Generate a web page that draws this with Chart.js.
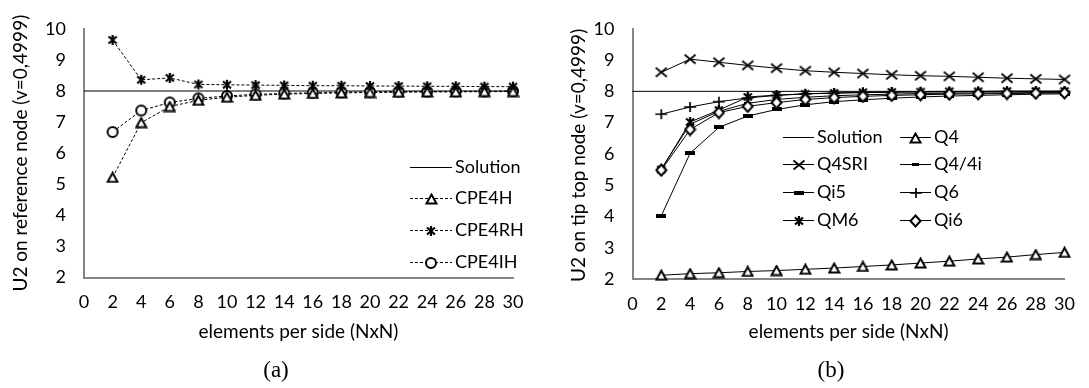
<!DOCTYPE html>
<html>
<head>
<meta charset="utf-8">
<script src="https://cdn.jsdelivr.net/npm/chart.js@4.4.1/dist/chart.umd.min.js"></script>
<style>
  body { margin: 0; background: #fff; width: 1089px; height: 388px; position: relative; overflow: hidden; }
  .panel { position: absolute; top: 0; }
  .panel canvas { display: block; }
  .pie { position: absolute; top: 356px; line-height: 28px; font-family: "Liberation Serif", serif; font-size: 23px; color: #000; transform: translateX(-50%); }
</style>
</head>
<body>
<div class="panel" style="left:0"><canvas id="graficoA" width="545" height="388"></canvas></div>
<div class="panel" style="left:545px"><canvas id="graficoB" width="544" height="388"></canvas></div>
<div class="pie" style="left:276px">(a)</div>
<div class="pie" style="left:831px">(b)</div>
<script>
// datos
const elementos = [2, 4, 6, 8, 10, 12, 14, 16, 18, 20, 22, 24, 26, 28, 30];
const solucionX = [0, 30];
const solucionY = [8, 8];

// (a)
const cpe4h  = [5.22, 6.98, 7.50, 7.70, 7.80, 7.86, 7.90, 7.92, 7.94, 7.95, 7.96, 7.97, 7.97, 7.98, 7.98];
const cpe4rh = [9.64, 8.36, 8.42, 8.21, 8.20, 8.19, 8.18, 8.17, 8.17, 8.16, 8.16, 8.15, 8.15, 8.14, 8.14];
const cpe4ih = [6.68, 7.37, 7.63, 7.76, 7.84, 7.89, 7.92, 7.94, 7.96, 7.97, 7.98, 7.98, 7.99, 7.99, 8.00];

// (b)
const q4    = [2.12, 2.17, 2.20, 2.24, 2.27, 2.31, 2.35, 2.40, 2.45, 2.51, 2.57, 2.64, 2.70, 2.78, 2.85];
const q4sri = [8.61, 9.03, 8.93, 8.83, 8.74, 8.66, 8.61, 8.57, 8.53, 8.50, 8.48, 8.45, 8.42, 8.40, 8.38];
const q44i  = [5.52, 6.95, 7.36, 7.62, 7.74, 7.81, 7.86, 7.89, 7.91, 7.93, 7.94, 7.95, 7.95, 7.96, 7.96];
const qi5   = [4.02, 6.02, 6.85, 7.21, 7.42, 7.57, 7.67, 7.73, 7.78, 7.82, 7.85, 7.87, 7.89, 7.91, 7.92];
const q6    = [7.27, 7.50, 7.67, 7.79, 7.87, 7.92, 7.94, 7.96, 7.97, 7.98, 7.98, 7.99, 7.99, 7.99, 8.00];
const qm6   = [5.50, 7.02, 7.40, 7.82, 7.88, 7.92, 7.95, 7.97, 7.98, 7.99, 8.00, 8.00, 8.01, 8.01, 8.01];
const qi6   = [5.48, 6.78, 7.32, 7.52, 7.64, 7.74, 7.80, 7.84, 7.87, 7.89, 7.91, 7.92, 7.93, 7.94, 7.95];

const colorEje = '#858585';
const familia = 'Lato, "Open Sans", sans-serif';
const fuenteTicks = { family: familia, size: 18 };
const fuenteTitulo = { family: familia, size: 19 };

function puntos(xs, ys) {
  return xs.map((x, i) => ({ x: x, y: ys[i] }));
}

// marcadores dibujados a mano (estilo Excel)
function crearMarcador(tipo) {
  const tam = { tri: [13, 12], ast: [12, 12], circ: [14, 14], equis: [14, 12], guionChico: [7, 3], guionGrande: [10, 4], cruz: [14, 12], rombo: [13, 14] }[tipo];
  const c = document.createElement('canvas');
  c.width = tam[0]; c.height = tam[1];
  const g = c.getContext('2d');
  const w = c.width, h = c.height;
  g.strokeStyle = '#000';
  g.fillStyle = '#fff';
  g.lineWidth = 2;
  g.beginPath();
  if (tipo === 'tri') {
    g.moveTo(w / 2, 1.5); g.lineTo(w - 1.5, h - 1.5); g.lineTo(1.5, h - 1.5); g.closePath();
    g.fill(); g.stroke();
  } else if (tipo === 'ast') {
    g.lineWidth = 2.2;
    g.moveTo(2, 2.5); g.lineTo(w - 2, h - 2.5);
    g.moveTo(w - 2, 2.5); g.lineTo(2, h - 2.5);
    g.moveTo(w / 2, 1); g.lineTo(w / 2, h - 1);
    g.stroke();
  } else if (tipo === 'circ') {
    g.arc(w / 2, h / 2, 5, 0, Math.PI * 2);
    g.fill(); g.stroke();
  } else if (tipo === 'equis') {
    g.lineWidth = 1.7;
    g.moveTo(1.5, 1.5); g.lineTo(w - 1.5, h - 1.5);
    g.moveTo(w - 1.5, 1.5); g.lineTo(1.5, h - 1.5);
    g.stroke();
  } else if (tipo === 'cruz') {
    g.lineWidth = 1.7;
    g.moveTo(1, h / 2); g.lineTo(w - 1, h / 2);
    g.moveTo(w / 2, 1); g.lineTo(w / 2, h - 1);
    g.stroke();
  } else if (tipo === 'rombo') {
    g.moveTo(w / 2, 1.5); g.lineTo(w - 1.5, h / 2); g.lineTo(w / 2, h - 1.5); g.lineTo(1.5, h / 2); g.closePath();
    g.fill(); g.stroke();
  } else {
    g.fillStyle = '#000';
    g.fillRect(0, 0, w, h);
  }
  return c;
}

// leyenda manual: linea + marcador + texto, en filas y columnas
const leyendaManual = {
  id: 'leyendaManual',
  afterDraw(chart, args, opts) {
    const ctx = chart.ctx;
    chart.data.datasets.forEach((ds, i) => {
      const col = i % opts.cols;
      const fila = Math.floor(i / opts.cols);
      const x = opts.x + col * opts.anchoCol;
      const y = Math.round(opts.y + fila * opts.altoFila) + 0.5;
      ctx.save();
      ctx.strokeStyle = ds.borderColor;
      ctx.lineWidth = ds.borderWidth;
      ctx.setLineDash(ds.borderDash || []);
      ctx.beginPath();
      ctx.moveTo(x, y);
      ctx.lineTo(x + opts.largo, y);
      ctx.stroke();
      ctx.setLineDash([]);
      if (ds.pointRadius > 0 && ds.pointStyle instanceof HTMLCanvasElement) {
        const m = ds.pointStyle;
        ctx.drawImage(m, Math.round(x + opts.largo / 2 - m.width / 2), Math.round(y - m.height / 2));
      }
      ctx.fillStyle = '#000';
      ctx.font = fuenteTicks.size + 'px ' + familia;
      ctx.textBaseline = 'middle';
      ctx.fillText(ds.label, x + opts.largo + 3, y);
      ctx.restore();
    });
  }
};

function serie(etiqueta, ys, marcador, discontinua) {
  return {
    label: etiqueta,
    data: puntos(elementos, ys),
    borderColor: '#000',
    borderWidth: 1,
    borderDash: discontinua ? [3, 2] : [],
    pointStyle: crearMarcador(marcador),
    pointRadius: 5,
    pointHoverRadius: 5,
    clip: false,
    order: 1
  };
}

function solucion(grosor) {
  return {
    label: 'Solution',
    data: puntos(solucionX, solucionY),
    borderColor: '#000',
    borderWidth: grosor,
    pointRadius: 0,
    clip: false,
    order: 10
  };
}

function opciones(cfg) {
  return {
    responsive: false,
    animation: false,
    devicePixelRatio: 1,
    layout: { padding: cfg.padding },
    plugins: {
      legend: { display: false },
      tooltip: { enabled: false },
      leyendaManual: cfg.leyenda
    },
    scales: {
      x: {
        type: 'linear', min: 0, max: 30,
        afterFit: s => { s.height = cfg.altoX; },
        grid: { display: false, drawTicks: false },
        border: { display: true, color: colorEje, width: 2 },
        ticks: { stepSize: 2, autoSkip: false, maxRotation: 0, padding: 14, color: '#000', font: fuenteTicks },
        title: { display: true, text: 'elements per side (NxN)', color: '#000', font: fuenteTitulo, padding: { top: 0, bottom: 2 } }
      },
      y: {
        type: 'linear', min: 2, max: 10,
        afterFit: s => { s.width = cfg.anchoY; },
        grid: { display: false, drawTicks: false },
        border: { display: true, color: colorEje, width: 2 },
        ticks: { stepSize: 1, padding: 18, color: '#000', font: fuenteTicks },
        title: { display: true, text: cfg.tituloY, align: cfg.alineaY, color: '#000', font: fuenteTitulo, padding: { top: cfg.padTituloY, bottom: 0 } }
      }
    }
  };
}

new Chart(document.getElementById('graficoA').getContext('2d'), {
  type: 'line',
  data: {
    datasets: [
      solucion(1.2),
      serie('CPE4H', cpe4h, 'tri', true),
      serie('CPE4RH', cpe4rh, 'ast', true),
      serie('CPE4IH', cpe4ih, 'circ', true)
    ]
  },
  options: opciones({
    padding: { top: 19, left: 0, right: 32, bottom: 43 },
    altoX: 67.5,
    anchoY: 84,
    tituloY: 'U2 on reference node (v=0,4999)',
    alineaY: 'center',
    padTituloY: 9,
    leyenda: { x: 410, y: 166.7, cols: 1, anchoCol: 0, altoFila: 31.7, largo: 42 }
  }),
  plugins: [leyendaManual]
});

const dsB = [
  solucion(1),
  serie('Q4', q4, 'tri', false),
  serie('Q4SRI', q4sri, 'equis', false),
  serie('Q4/4i', q44i, 'guionChico', false),
  serie('Qi5', qi5, 'guionGrande', false),
  serie('Q6', q6, 'cruz', false),
  serie('QM6', qm6, 'ast', false),
  serie('Qi6', qi6, 'rombo', false)
];
dsB[7].order = 0;

new Chart(document.getElementById('graficoB').getContext('2d'), {
  type: 'line',
  data: { datasets: dsB },
  options: opciones({
    padding: { top: 10, left: 0, right: 13, bottom: 43 },
    altoX: 66,
    anchoY: 87.5,
    tituloY: 'U2 on tip top node (v=0,4999)',
    alineaY: 'end',
    padTituloY: 22,
    leyenda: { x: 238, y: 136.7, cols: 2, anchoCol: 117, altoFila: 27.6, largo: 31 }
  }),
  plugins: [leyendaManual]
});
</script>
</body>
</html>
